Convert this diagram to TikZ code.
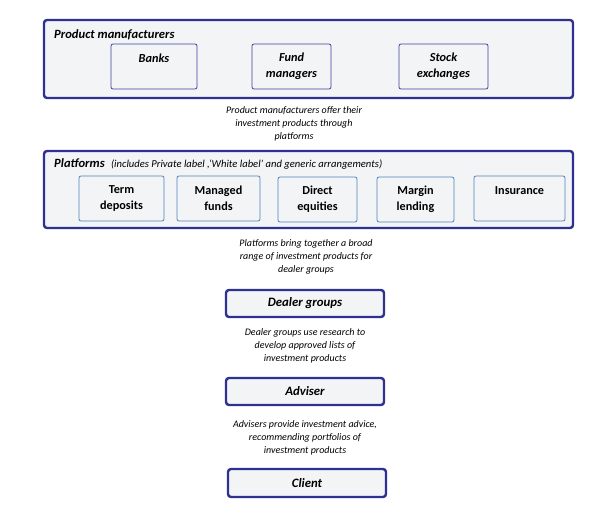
\documentclass[tikz,border=0pt]{standalone}
\usepackage{fontspec}
\setmainfont{Carlito}
\usepackage{xcolor}
\usetikzlibrary{positioning}
\definecolor{navy}{HTML}{2E3192}
\definecolor{rimblue}{HTML}{3F3F9F}
\definecolor{softblue}{HTML}{4F81BD}
\definecolor{paper}{HTML}{F2F4F6}

\begin{document}
\begin{tikzpicture}[x=1pt, y=-1pt, every node/.style={align=center, inner sep=0pt},
  group/.style={draw=navy, line width=2.4pt, rounded corners=3pt, fill=paper},
  maker/.style={draw=rimblue, line width=0.8pt, rounded corners=2pt, fill=paper, minimum height=45pt,
    font=\fontsize{12.3}{16}\selectfont\bfseries\itshape},
  product/.style={draw=softblue, line width=0.8pt, rounded corners=2pt, fill=paper, minimum height=45pt,
    font=\fontsize{12.2}{16}\selectfont\bfseries},
  actor/.style={group, minimum width=158pt, minimum height=27pt, font=\fontsize{12.8}{14}\selectfont\bfseries\itshape},
  note/.style={font=\fontsize{10}{13}\selectfont\itshape}]
  \useasboundingbox (0,0) rectangle (597,521);

  % product manufacturers
  \node[group, minimum width=529pt, minimum height=78pt] (makers) at (308.5,59) {};
  \node[anchor=west, font=\fontsize{12.6}{14}\selectfont\bfseries\itshape] (makerstitle) at (54,35) {Product manufacturers};
  \node[maker, minimum width=86pt] (banks) at (154,66.5) {Banks\\~};
  \node[maker, minimum width=79pt] (fund) at (291.5,66.5) {Fund\\managers};
  \node[maker, minimum width=89pt] (stock) at (443.5,66.5) {Stock\\exchanges};

  \node[note] (offer) at (294,124) {Product manufacturers offer their\\investment products through\\platforms};

  % platforms
  \node[group, minimum width=529pt, minimum height=77pt] (platforms) at (308.5,189.5) {};
  \node[anchor=west] (platformstitle) at (54,164) {\fontsize{12.6}{14}\selectfont\bfseries\itshape Platforms\enspace
    \fontsize{10.6}{14}\selectfont\mdseries(includes Private label ,`White label' and generic arrangements)};
  \node[product, minimum width=85pt] (term) at (121.5,198.5) {Term\\deposits};
  \node[product, minimum width=83pt] (managed) at (218.5,198.5) {Managed\\funds};
  \node[product, minimum width=79pt] (direct) at (317.5,199.5) {Direct\\equities};
  \node[product, minimum width=77pt] (margin) at (415.5,199.5) {Margin\\lending};
  \node[product, minimum width=91pt] (insurance) at (519.5,198.5) {Insurance\\~};

  \node[note] (bring) at (306,257) {Platforms bring together a broad\\range of investment products for\\dealer groups};

  % chain down to the client
  \node[actor] (dealer) at (305,303.5) {Dealer groups};
  \node[note] (research) at (305,346) {Dealer groups use research to\\develop approved lists of\\investment products};
  \node[actor] (adviser) at (305,391.5) {Adviser};
  \node[note] (advice) at (305,438) {Advisers provide investment advice,\\recommending portfolios of\\investment products};
  \node[actor, minimum height=28pt] (client) at (307,483) {Client};
\end{tikzpicture}
\end{document}
